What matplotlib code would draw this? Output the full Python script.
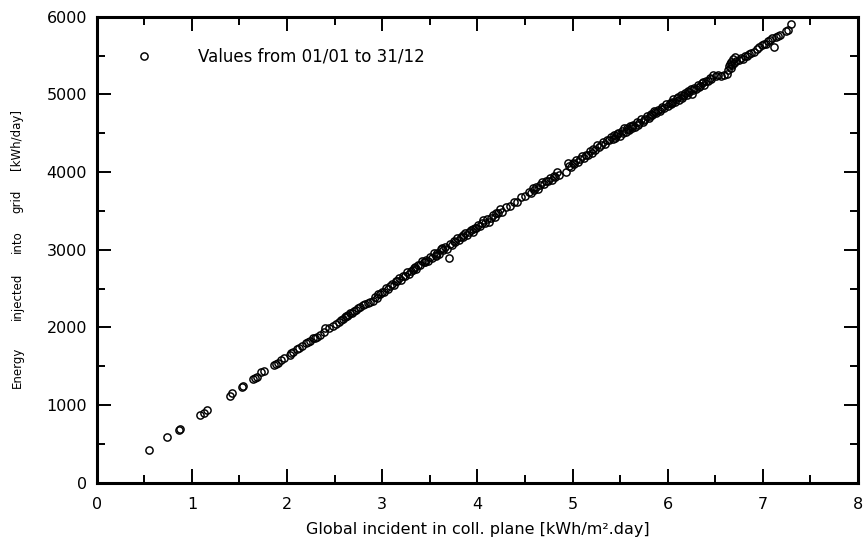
import matplotlib

matplotlib.use("Agg")
import matplotlib.pyplot as plt  # noqa: E402
from matplotlib.ticker import MultipleLocator  # noqa: E402

# daily global irradiance on the collector plane [kWh/m².day] and energy to grid [kWh/day]
irr_low = [0.55, 0.74, 0.86, 0.88, 1.09, 1.13, 1.16, 1.40, 1.42, 1.53,
           1.54, 1.64, 1.66, 1.68, 1.73, 1.76, 1.86, 1.88, 1.90, 1.94,
           1.97, 2.03, 2.04, 2.06, 2.10, 2.13, 2.16, 2.20, 2.22, 2.24,
           2.27, 2.29, 2.31, 2.35, 2.39, 2.40, 2.44, 2.48, 2.51, 2.55,
           2.57, 2.59, 2.61, 2.62, 2.63, 2.64, 2.66, 2.68, 2.70, 2.72,
           2.75, 2.77, 2.80, 2.82, 2.85, 2.87, 2.90]
energy_low = [417, 584, 682, 690, 871, 893, 936, 1120, 1150, 1234,
              1242, 1340, 1352, 1365, 1422, 1435, 1510, 1528, 1544, 1579,
              1605, 1639, 1673, 1680, 1716, 1735, 1758, 1801, 1812, 1827,
              1857, 1866, 1878, 1904, 1939, 1986, 1995, 2016, 2042, 2075,
              2098, 2106, 2130, 2149, 2140, 2160, 2179, 2190, 2205, 2222,
              2244, 2262, 2286, 2300, 2316, 2330, 2338]

irr_3 = [2.92, 2.94, 2.96, 2.98, 3.00, 3.02, 3.04, 3.06, 3.08, 3.10,
         3.12, 3.14, 3.16, 3.18, 3.20, 3.22, 3.24, 3.26, 3.28, 3.30,
         3.32, 3.33, 3.34, 3.36, 3.38, 3.40, 3.42, 3.44, 3.45, 3.46, 3.48,
         3.50, 3.52, 3.54, 3.56, 3.57, 3.58, 3.60, 3.62, 3.63, 3.64,
         3.66, 3.68, 3.70, 3.71, 3.73, 3.75, 3.77, 3.79, 3.81, 3.83,
         3.85, 3.85, 3.87, 3.89, 3.91, 3.93, 3.95, 3.95, 3.97, 3.99]
energy_3 = [2390, 2383, 2433, 2427, 2460, 2453, 2512, 2497, 2530, 2564,
            2542, 2591, 2595, 2633, 2612, 2660, 2664, 2711, 2692, 2728,
            2739, 2760, 2775, 2757, 2803, 2799, 2850, 2836, 2845, 2868, 2849,
            2905, 2896, 2952, 2924, 2930, 2960, 2951, 3007, 3020, 2998,
            3035, 3006, 2888, 3070, 3061, 3113, 3104, 3150, 3121, 3167,
            3164, 3190, 3220, 3191, 3227, 3258, 3230, 3270, 3281, 3282]

irr_4 = [4.01, 4.03, 4.05, 4.06, 4.08, 4.10, 4.12, 4.14, 4.16, 4.18,
         4.20, 4.22, 4.24, 4.26, 4.30, 4.34, 4.38, 4.42, 4.46, 4.50,
         4.54, 4.56, 4.58, 4.60, 4.62, 4.64, 4.66, 4.68, 4.70, 4.72,
         4.74, 4.76, 4.78, 4.80, 4.82, 4.84, 4.86, 4.93, 4.95, 4.96,
         4.98]
energy_4 = [3318, 3299, 3346, 3379, 3350, 3396, 3362, 3413, 3450, 3426,
            3467, 3468, 3519, 3486, 3553, 3560, 3608, 3610, 3678, 3690,
            3747, 3729, 3790, 3766, 3807, 3786, 3828, 3874, 3840, 3888,
            3879, 3926, 3897, 3943, 3939, 3995, 3967, 4003, 4110, 4073,
            4062]

irr_5 = [5.00, 5.02, 5.04, 5.06, 5.08, 5.10, 5.12, 5.14, 5.16, 5.18,
         5.20, 5.22, 5.24, 5.26, 5.28, 5.30, 5.32, 5.34, 5.36, 5.38,
         5.40, 5.42, 5.44, 5.45, 5.46, 5.47, 5.48, 5.50, 5.52, 5.53,
         5.54, 5.56, 5.57, 5.58, 5.59, 5.60, 5.62, 5.63, 5.64, 5.66,
         5.68, 5.69, 5.70, 5.72, 5.74, 5.75, 5.76, 5.78, 5.80, 5.81,
         5.82, 5.84, 5.86, 5.87, 5.88, 5.90, 5.92, 5.93, 5.94, 5.96,
         5.98]
energy_5 = [4113, 4104, 4157, 4134, 4170, 4211, 4177, 4223, 4225, 4271,
            4242, 4298, 4289, 4346, 4317, 4353, 4389, 4360, 4407, 4408,
            4449, 4427, 4481, 4440, 4461, 4490, 4500, 4469, 4523, 4500,
            4562, 4522, 4570, 4560, 4545, 4593, 4567, 4590, 4603, 4580,
            4638, 4610, 4627, 4678, 4648, 4672, 4685, 4720, 4691, 4725,
            4741, 4732, 4789, 4768, 4760, 4799, 4780, 4815, 4839, 4830,
            4875]

irr_6 = [6.00, 6.02, 6.03, 6.04, 6.05, 6.06, 6.08, 6.10, 6.11, 6.12,
         6.14, 6.15, 6.16, 6.17, 6.18, 6.20, 6.21, 6.22, 6.24, 6.26,
         6.27, 6.28, 6.30, 6.32, 6.33, 6.34, 6.36, 6.37, 6.38, 6.40,
         6.42, 6.44, 6.46, 6.48, 6.51, 6.53, 6.56, 6.59, 6.62, 6.63,
         6.64, 6.65, 6.66, 6.67, 6.68, 6.69, 6.70, 6.71, 6.72, 6.75,
         6.77, 6.79, 6.81, 6.83, 6.85, 6.88, 6.91, 6.94, 6.96, 6.99,
         7.01, 7.03, 7.05, 7.07, 7.10, 7.12, 7.14, 7.16, 7.18, 7.24,
         7.26, 7.30]
energy_6 = [4845, 4895, 4870, 4884, 4900, 4939, 4908, 4948, 4960, 4922,
            4987, 4955, 4977, 4990, 5022, 4992, 5040, 5032, 5072, 5008,
            5060, 5083, 5074, 5124, 5100, 5114, 5149, 5160, 5123, 5172,
            5166, 5215, 5200, 5255, 5240, 5255, 5235, 5245, 5262, 5320,
            5360, 5395, 5340, 5420, 5380, 5450, 5400, 5480, 5430, 5440,
            5470, 5455, 5490, 5500, 5515, 5530, 5545, 5580, 5610, 5630,
            5655, 5645, 5690, 5700, 5720, 5612, 5740, 5755, 5770, 5810,
            5826, 5903]

irradiance = irr_low + irr_3 + irr_4 + irr_5 + irr_6
energy = energy_low + energy_3 + energy_4 + energy_5 + energy_6

plt.rcParams["font.family"] = ["DejaVu Sans"]

fig = plt.figure(figsize=(8.66, 5.43), dpi=100)
ax = fig.add_axes([0.1117, 0.1111, 0.8791, 0.8581])

ax.plot(irradiance, energy, linestyle="none", marker="o", markersize=5.2,
        markerfacecolor="none", markeredgecolor="black", markeredgewidth=1.05,
        label="Values from 01/01 to 31/12")

ax.set_xlim(0, 8)
ax.set_ylim(0, 6000)
ax.xaxis.set_major_locator(MultipleLocator(1))
ax.xaxis.set_minor_locator(MultipleLocator(0.5))
ax.yaxis.set_major_locator(MultipleLocator(1000))
ax.yaxis.set_minor_locator(MultipleLocator(500))

for side in ax.spines.values():
    side.set_linewidth(2.2)
ax.tick_params(which="both", direction="in", top=True, right=True, width=1.4,
               labelsize=11.5, colors="black")
ax.tick_params(which="major", length=10)
ax.tick_params(which="minor", length=6)
ax.tick_params(axis="x", which="major", pad=10)
ax.tick_params(axis="y", which="major", pad=7)

ax.set_xlabel("Global incident in coll. plane [kWh/m².day]", fontsize=11.5, labelpad=7.5)

# y label words spread along the axis
label_words = ["Energy", "injected", "into", "grid", "[kWh/day]"]
word_y = [367, 296, 242, 201, 139]
for word, ypix in zip(label_words, word_y):
    fig.text(17 / 866, 1 - ypix / 543, word, rotation=90, fontsize=8.5,
             ha="center", va="center")

ax.legend(loc="upper left", bbox_to_anchor=(0.0508, 0.9335), frameon=False,
          numpoints=1, handlelength=1.0, handletextpad=2.75, borderpad=0,
          borderaxespad=0, fontsize=12)

fig.savefig("out.png", dpi=100)
